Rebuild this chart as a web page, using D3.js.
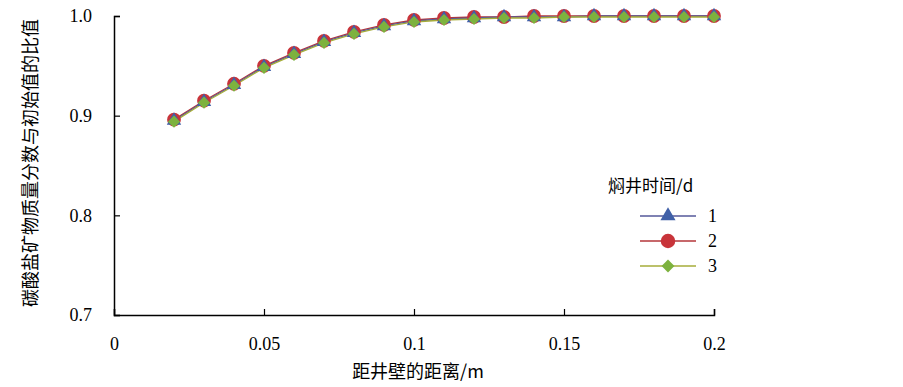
<!DOCTYPE html>
<html>
<head>
<meta charset="utf-8">
<script src="https://cdn.jsdelivr.net/npm/d3@7"></script>
<style>
  body { margin: 0; background: #fff; }
</style>
</head>
<body>
<svg id="chart" width="903" height="387"></svg>
<script>
// distance from well wall (m)
const distance = [0.02, 0.03, 0.04, 0.05, 0.06, 0.07, 0.08, 0.09, 0.1, 0.11,
                  0.12, 0.13, 0.14, 0.15, 0.16, 0.17, 0.18, 0.19, 0.2];
// ratio of carbonate mass fraction to initial value, by soak time
const day1 = [0.895, 0.914, 0.931, 0.949, 0.962, 0.974, 0.983, 0.990, 0.995, 0.997,
              0.998, 0.999, 0.999, 0.999, 1.0, 1.0, 1.0, 1.0, 1.0];
const day2 = [0.896, 0.915, 0.932, 0.950, 0.963, 0.975, 0.984, 0.991, 0.996, 0.998,
              0.999, 0.999, 1.0, 1.0, 1.0, 1.0, 1.0, 1.0, 1.0];
const day3 = [0.894, 0.913, 0.930, 0.948, 0.961, 0.973, 0.982, 0.989, 0.994, 0.996,
              0.997, 0.998, 0.998, 0.999, 0.999, 0.999, 0.999, 0.999, 0.999];
const seriesNames = ["1", "2", "3"];
const xTicks = [0, 0.05, 0.1, 0.15, 0.2];
const xTickLabels = ["0", "0.05", "0.1", "0.15", "0.2"];
const yTicks = [0.7, 0.8, 0.9, 1.0];

const SERIF = "'Times New Roman', 'Liberation Serif', 'DejaVu Serif', serif";
const svg = d3.select("#chart");

const x = d3.scaleLinear().domain([0, 0.2]).range([114, 714]);
const y = d3.scaleLinear().domain([0.7, 1.0]).range([315, 16]);

const series = [
  { name: seriesNames[0], values: day1, line: "#55589a", fill: "#4060a8", shape: d3.symbolTriangle, size: 90 },
  { name: seriesNames[1], values: day2, line: "#b5363a", fill: "#c8343a", shape: d3.symbolCircle, size: 150 },
  { name: seriesNames[2], values: day3, line: "#a6ad3a", fill: "#7db23e", shape: d3.symbolDiamond2, size: 95 }
];

// axes
const xAxis = d3.axisBottom(x).tickValues(xTicks).tickSize(-6)
  .tickFormat((d, i) => xTickLabels[i]).tickPadding(22);
const yAxis = d3.axisLeft(y).tickValues(yTicks).tickSize(-6)
  .tickFormat(d3.format(".1f")).tickPadding(22);

const gx = svg.append("g").attr("transform", "translate(0,315)").call(xAxis);
const gy = svg.append("g").attr("transform", "translate(114,0)").call(yAxis);
[gx, gy].forEach(g => {
  g.attr("font-family", SERIF).attr("font-size", 18);
  g.select(".domain").attr("stroke", "#000").attr("stroke-width", 1.5);
  g.selectAll(".tick line").attr("stroke", "#000").attr("stroke-width", 1.2);
  g.selectAll(".tick text").attr("fill", "#000")
    .style("font-family", SERIF).style("font-size", "18px");
});
gy.selectAll(".tick text").attr("dy", "0.32em");

// lines and markers (red under, green on top -> olive look)
const line = d3.line().x((d, i) => x(distance[i])).y(d => y(d));
[series[1], series[0], series[2]].forEach(s => {
  svg.append("path").datum(s.values)
    .attr("fill", "none").attr("stroke", s.line).attr("stroke-width", 1.3)
    .attr("d", line);
});
[series[1], series[0], series[2]].forEach(s => {
  svg.append("g").selectAll("path").data(s.values).enter().append("path")
    .attr("transform", (d, i) => `translate(${x(distance[i])},${y(d)})`)
    .attr("d", d3.symbol().type(s.shape).size(s.size))
    .attr("fill", s.fill);
});

// legend
const legend = svg.append("g");
legend.append("text").attr("x", 608).attr("y", 192)
  .style("font-family", "Noto Sans CJK SC").style("font-size", "17px")
  .text("焖井时间/d");
series.forEach((s, i) => {
  const ly = 216 + i * 25;
  legend.append("line").attr("x1", 640).attr("x2", 696).attr("y1", ly).attr("y2", ly)
    .attr("stroke", s.line).attr("stroke-width", 1.5);
  legend.append("path").attr("transform", `translate(668,${ly})`)
    .attr("d", d3.symbol().type(s.shape).size(s.size * 1.1)).attr("fill", s.fill);
  legend.append("text").attr("x", 708).attr("y", ly + 6)
    .style("font-family", SERIF).style("font-size", "18px").text(s.name);
});

// axis titles
svg.append("text").attr("x", 418).attr("y", 378).attr("text-anchor", "middle")
  .style("font-family", "Noto Sans CJK SC").style("font-size", "18px")
  .text("距井壁的距离/m");
svg.append("text").attr("transform", "translate(37,163) rotate(-90)")
  .attr("text-anchor", "middle")
  .style("font-family", "Noto Sans CJK SC").style("font-size", "18px")
  .text("碳酸盐矿物质量分数与初始值的比值");
</script>
</body>
</html>
